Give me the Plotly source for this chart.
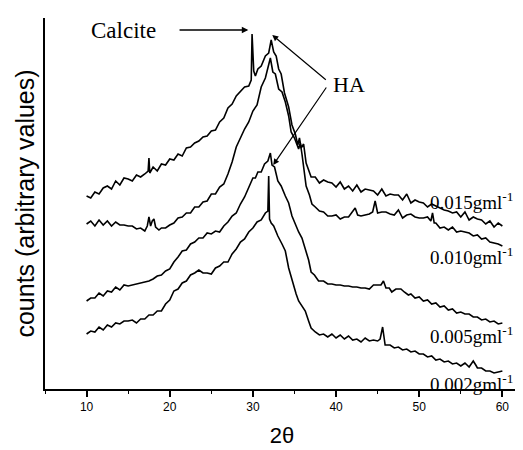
import plotly.graph_objects as go

# XRD patterns, heights in arbitrary units (offset per curve as in the figure)
x_015 = [10.0, 10.5, 11.0, 11.5, 12.0, 12.5, 13.0, 13.5, 14.0, 14.5, 15.0, 15.5, 16.0, 16.5, 17.0,
         17.4, 17.5, 17.6, 18.0, 18.5, 19.0, 19.5, 20.0, 20.5, 21.0, 21.5, 22.0, 22.5, 23.0, 23.5,
         24.0, 24.5, 25.0, 25.5, 26.0, 26.5, 27.0, 27.5, 28.0, 28.5, 29.0, 29.5, 29.8, 29.9, 30.1,
         30.3, 30.6, 31.0, 31.5, 31.9, 32.2, 32.5, 32.8, 33.1, 33.4, 33.8, 34.3, 34.7, 35.1, 35.4,
         35.6, 35.8, 36.1, 36.4, 36.7, 37.0, 37.5, 38.0, 38.5, 39.0, 39.5, 40.0, 40.5, 41.0, 41.5,
         42.0, 42.5, 43.0, 43.5, 44.0, 44.5, 45.0, 45.5, 46.0, 46.5, 47.0, 47.5, 48.0, 48.5, 49.0,
         49.5, 50.0, 50.5, 51.0, 51.5, 52.0, 52.5, 53.0, 53.5, 54.0, 54.5, 55.0, 55.5, 56.0, 56.5,
         57.0, 57.5, 58.0, 58.5, 59.0, 59.5, 60.0]
y_015 = [193, 191, 197, 195, 201, 203, 200, 208, 204, 211, 210, 208, 214, 212, 215,
         218, 231, 216, 222, 218, 225, 224, 230, 229, 235, 233, 241, 242, 246, 248,
         252, 253, 258, 259, 267, 271, 281, 285, 293, 297, 302, 303, 309, 355, 318,
         313, 320, 323, 333, 336, 349, 337, 333, 320, 315, 296, 282, 264, 255, 244,
         251, 241, 245, 226, 219, 212, 212, 206, 209, 207, 206, 202, 207, 200, 203,
         198, 204, 197, 200, 199, 198, 194, 200, 193, 195, 194, 194, 189, 195, 186,
         189, 187, 186, 182, 185, 183, 181, 179, 178, 176, 177, 172, 177, 169, 172,
         170, 169, 165, 168, 162, 166, 163]

x_010 = [10.0, 10.5, 11.0, 11.5, 12.0, 12.5, 13.0, 13.5, 14.0, 14.5, 15.0, 15.5, 16.0, 16.5, 17.0,
         17.3, 17.5, 17.7, 17.9, 18.1, 18.3, 18.7, 19.0, 19.5, 20.0, 20.5, 21.0, 21.5, 22.0, 22.5,
         23.0, 23.5, 24.0, 24.5, 25.0, 25.5, 26.0, 26.5, 27.0, 27.5, 28.0, 28.5, 29.0, 29.5, 30.0,
         30.5, 31.0, 31.5, 31.9, 32.1, 32.4, 32.7, 33.1, 33.5, 33.9, 34.3, 34.6, 35.0, 35.5, 35.7,
         35.9, 36.1, 36.4, 36.8, 37.1, 37.5, 38.0, 38.5, 39.0, 39.5, 40.0, 40.5, 41.0, 41.5, 42.0,
         42.3, 42.6, 43.0, 43.5, 44.0, 44.4, 44.7, 45.0, 45.5, 46.0, 46.5, 47.0, 47.5, 48.0, 48.5,
         49.0, 49.5, 50.0, 50.5, 51.0, 51.4, 51.6, 51.8, 52.0, 52.5, 53.0, 53.5, 54.0, 54.5, 55.0,
         55.5, 56.0, 56.5, 57.0, 57.5, 58.0, 58.5, 59.0, 59.5, 60.0]
y_010 = [165, 168, 163, 169, 164, 168, 163, 167, 164, 164, 163, 163, 160, 161, 158,
         163, 172, 163, 168, 170, 162, 159, 161, 161, 164, 166, 171, 172, 176, 176,
         182, 182, 187, 188, 195, 195, 202, 205, 215, 227, 242, 251, 260, 267, 278,
         284, 302, 311, 324, 331, 317, 315, 300, 297, 287, 273, 257, 251, 240, 246,
         235, 222, 203, 194, 185, 182, 178, 177, 173, 173, 174, 170, 172, 172, 177,
         181, 174, 173, 174, 175, 177, 188, 176, 177, 177, 175, 174, 179, 171, 174,
         175, 172, 171, 171, 172, 168, 176, 166, 166, 161, 162, 159, 162, 157, 158,
         157, 156, 153, 154, 150, 151, 147, 146, 145, 143]

x_005 = [10.0, 10.5, 11.0, 11.5, 12.0, 12.5, 13.0, 13.5, 14.0, 14.5, 15.0, 15.5, 16.0, 16.5, 17.0,
         17.5, 18.0, 18.5, 19.0, 19.5, 20.0, 20.5, 21.0, 21.5, 22.0, 22.5, 23.0, 23.5, 24.0, 24.5,
         25.0, 25.5, 26.0, 26.5, 27.0, 27.5, 28.0, 28.5, 29.0, 29.5, 29.8, 30.0, 30.3, 30.6, 31.0,
         31.4, 31.8, 32.1, 32.3, 32.6, 33.0, 33.4, 33.9, 34.3, 34.7, 35.1, 35.5, 35.9, 36.3, 36.7,
         37.0, 37.4, 37.9, 38.5, 39.0, 39.5, 40.0, 40.5, 41.0, 41.5, 42.0, 42.5, 43.0, 43.5, 44.0,
         44.5, 45.0, 45.4, 45.7, 46.0, 46.4, 46.7, 47.2, 47.8, 48.2, 48.7, 49.0, 49.5, 50.0, 50.5,
         51.0, 51.5, 52.0, 52.5, 53.0, 53.5, 54.0, 54.5, 55.0, 55.5, 56.0, 56.5, 57.0, 57.5, 58.0,
         58.5, 59.0, 59.5, 60.0]
y_005 = [88, 91, 91, 96, 93, 98, 97, 102, 99, 104, 103, 104, 105, 106, 107,
         108, 110, 113, 114, 118, 120, 127, 132, 138, 139, 145, 147, 151, 151, 156,
         155, 158, 157, 163, 167, 173, 176, 185, 192, 202, 207, 211, 211, 217, 217,
         225, 228, 236, 224, 222, 208, 203, 193, 186, 173, 165, 157, 151, 140, 129,
         117, 114, 108, 108, 105, 105, 104, 104, 103, 103, 102, 102, 101, 101, 100,
         104, 104, 104, 108, 101, 101, 97, 100, 100, 97, 94, 95, 91, 92, 88,
         89, 85, 86, 82, 83, 79, 80, 76, 77, 75, 75, 72, 72, 69, 70,
         67, 68, 65, 66]

x_002 = [10.0, 10.5, 11.0, 11.5, 12.0, 12.5, 13.0, 13.5, 14.0, 14.5, 15.0, 15.5, 16.0, 16.5, 17.0,
         17.5, 18.0, 18.5, 19.0, 19.5, 20.0, 20.5, 21.0, 21.5, 22.0, 22.5, 23.0, 23.5, 24.0, 24.5,
         25.0, 25.5, 26.0, 26.5, 27.0, 27.5, 28.0, 28.5, 29.0, 29.5, 30.0, 30.5, 31.0, 31.5, 31.8,
         31.9, 32.0, 32.2, 32.5, 33.0, 33.5, 33.9, 34.3, 34.8, 35.2, 35.5, 35.9, 36.3, 36.7, 37.0,
         37.5, 38.0, 38.5, 39.0, 39.5, 40.0, 40.5, 41.0, 41.5, 42.0, 42.5, 43.0, 43.5, 44.0, 44.5,
         45.0, 45.3, 45.6, 45.9, 46.5, 47.0, 47.5, 48.0, 48.5, 49.0, 49.5, 50.0, 50.5, 51.0, 51.5,
         52.0, 52.5, 53.0, 53.5, 54.0, 54.5, 55.0, 55.5, 56.0, 56.5, 56.8, 57.0, 57.5, 58.0, 58.5,
         59.0, 59.5, 60.0]
y_002 = [55, 58, 57, 62, 59, 64, 62, 66, 65, 68, 68, 69, 66, 70, 70,
         74, 74, 78, 78, 85, 89, 98, 100, 106, 108, 114, 116, 119, 116, 116,
         115, 121, 123, 127, 127, 135, 140, 147, 150, 157, 161, 167, 169, 176, 178,
         213, 170, 166, 163, 153, 145, 138, 121, 105, 95, 88, 83, 78, 68, 61,
         57, 54, 55, 52, 55, 51, 54, 50, 53, 49, 50, 47, 51, 48, 49,
         48, 50, 62, 44, 44, 41, 42, 39, 40, 37, 38, 35, 35, 32, 33,
         29, 30, 27, 28, 25, 26, 23, 26, 22, 28, 24, 21, 21, 18, 18,
         16, 17, 18]

series = [(x_015, y_015), (x_010, y_010), (x_005, y_005), (x_002, y_002)]
labels = ["0.015", "0.010", "0.005", "0.002"]
label_y = [188, 133, 54, 6]
x_ticks = [10, 20, 30, 40, 50, 60]

serif = "Liberation Serif, Times New Roman, serif"
sans = "Liberation Sans, Arial, sans-serif"

fig = go.Figure()
for xs, ys in series:
    fig.add_trace(go.Scatter(x=xs, y=ys, mode="lines",
                             line=dict(color="black", width=1.6), showlegend=False))

for lab, ly in zip(labels, label_y):
    fig.add_annotation(x=51.1, y=ly, xanchor="left", yanchor="middle", showarrow=False,
                       text=lab + "gml<sup>-1</sup>", font=dict(family=serif, size=19, color="black"))

# Calcite arrow and label
fig.add_annotation(x=14.4, y=359, text="Calcite", showarrow=False,
                   font=dict(family=serif, size=23, color="black"))
fig.add_annotation(x=29.45, y=359, ax=21.0, ay=359, axref="x", ayref="y", text="",
                   showarrow=True, arrowhead=2, arrowsize=1, arrowwidth=1.3, arrowcolor="black")

# HA arrows and label
fig.add_annotation(x=41.6, y=305, text="HA", showarrow=False,
                   font=dict(family=serif, size=22, color="black"))
fig.add_annotation(x=32.33, y=354, ax=38.95, ay=308, axref="x", ayref="y", text="",
                   showarrow=True, arrowhead=2, arrowsize=1, arrowwidth=1.2, arrowcolor="black")
fig.add_annotation(x=32.45, y=224, ax=38.95, ay=303, axref="x", ayref="y", text="",
                   showarrow=True, arrowhead=2, arrowsize=1, arrowwidth=1.2, arrowcolor="black")

fig.update_xaxes(range=[5, 62], tickvals=x_ticks, ticks="outside", ticklen=6, tickwidth=1.5,
                 tickcolor="black", showline=True, linecolor="black", linewidth=2,
                 showgrid=False, zeroline=False,
                 minor=dict(dtick=5, tick0=5, ticks="outside", ticklen=3, tickcolor="black", tickwidth=1.2),
                 tickfont=dict(family=sans, size=12, color="black"),
                 title=dict(text="2θ", font=dict(family=sans, size=22, color="black"), standoff=14))
fig.update_yaxes(range=[0, 371], showticklabels=False, ticks="", showline=True,
                 linecolor="black", linewidth=1.5, showgrid=False, zeroline=False,
                 title=dict(text="counts (arbitrary values)", standoff=2,
                            font=dict(family=sans, size=25, color="black")))

fig.update_layout(width=523, height=450, margin=dict(l=37, r=12, t=10, b=69),
                  plot_bgcolor="white", paper_bgcolor="white")

fig.write_html("out.html")
